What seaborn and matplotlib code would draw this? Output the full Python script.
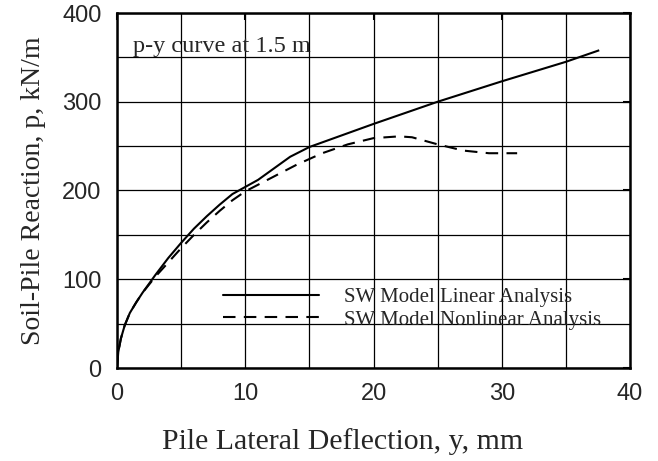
import matplotlib
matplotlib.use("Agg")
import matplotlib.pyplot as plt
import seaborn as sns
import pandas as pd
from matplotlib.lines import Line2D

lin_x = [0, 0.1, 0.3, 0.6, 1.0, 1.5, 2.0, 3.0, 4.0, 5.0, 6.0, 7.0, 8.0, 9.0, 11.0, 13.5, 15.0, 20.0, 25.0, 30.0, 35.0, 37.6]
lin_y = [0, 18, 33, 48, 62, 74, 85, 105, 124, 141, 157, 171, 184, 196, 212, 238, 249, 275, 300, 323, 345, 358]

nl_x = [0, 0.1, 0.3, 0.6, 1.0, 1.5, 2.0, 3.0, 4.0, 5.0, 6.0, 7.0, 8.0, 9.0, 10.0, 12.0, 14.0, 16.0, 18.0, 20.0, 22.0, 23.0, 25.0, 27.0, 29.0, 31.2]
nl_y = [0, 18, 33, 48, 62, 74, 85, 103, 119, 135, 150, 164, 177, 189, 199, 214, 229, 242, 252, 259, 261, 260, 252, 245, 242, 242]

labels = ["SW Model Linear Analysis", "SW Model Nonlinear Analysis"]

df = pd.concat([
    pd.DataFrame({"x": lin_x, "y": lin_y, "series": labels[0]}),
    pd.DataFrame({"x": nl_x, "y": nl_y, "series": labels[1]}),
])

sns.set_style("white")
fig = plt.figure(figsize=(6.58, 4.61), dpi=100)
ax = fig.add_axes([117/658, 1 - 368/461, (630-117)/658, (368-13)/461])

sns.lineplot(data=df, x="x", y="y", hue="series", style="series",
             palette=["black", "black"], dashes=[(1, 0), (6, 4)],
             linewidth=1.5, sort=False, estimator=None, ax=ax, legend=False)

ax.set_xlim(0, 40)
ax.set_ylim(0, 400)
ax.set_xticks([0, 10, 20, 30, 40])
ax.set_yticks([0, 100, 200, 300, 400])
ax.set_xticks(range(0, 41, 5), minor=True)
ax.set_yticks(range(0, 401, 50), minor=True)
ax.grid(True, which="both", color="black", linewidth=0.9)
ax.tick_params(which="major", direction="in", length=5, width=1.5, top=True, right=True,
               labelsize=17, pad=11, color="black")
ax.tick_params(which="minor", length=0)
for lab in ax.get_xticklabels() + ax.get_yticklabels():
    lab.set_family("Liberation Sans")
for s in ax.spines.values():
    s.set_color("black")
    s.set_linewidth(1.8)

ax.set_xlabel("Pile Lateral Deflection, y, mm", family="Liberation Serif", fontsize=21.5)
ax.xaxis.set_label_coords(0.44, -0.17)
ax.set_ylabel("Soil-Pile Reaction, p, kN/m", family="Liberation Serif", fontsize=20, labelpad=12)

ax.text(0.032, 0.905, "p-y curve at 1.5 m", transform=ax.transAxes, family="Liberation Serif",
        fontsize=17.5, va="center", ha="left")

handles = [Line2D([], [], color="black", lw=1.5),
           Line2D([], [], color="black", lw=1.5, dashes=(6, 4))]
ax.legend(handles, labels, loc="lower left", bbox_to_anchor=(0.207, 0.108), frameon=False,
          prop={"family": "Liberation Serif", "size": 15}, handlelength=4.6,
          handletextpad=1.2, labelspacing=0.15, borderpad=0, borderaxespad=0)

fig.savefig("out.png", dpi=100)
